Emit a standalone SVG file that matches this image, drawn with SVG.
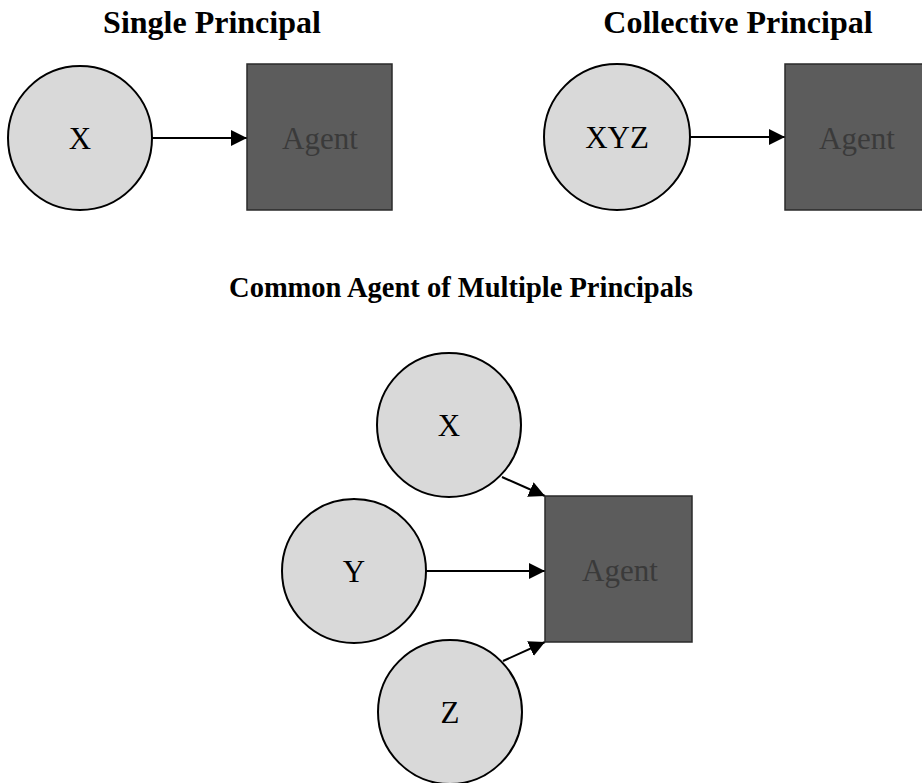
<svg xmlns="http://www.w3.org/2000/svg" width="922" height="783" viewBox="0 0 922 783">
<defs>
<marker id="arr" viewBox="0 0 16 16" refX="16" refY="8" markerWidth="16" markerHeight="16" markerUnits="userSpaceOnUse" orient="auto">
<path d="M0,0 L16,8 L0,16 Z" fill="#000"/>
</marker>
<style>
.title{font-family:"Liberation Serif","Times New Roman",serif;font-weight:bold;font-size:32px;fill:#000;text-anchor:middle}
.p{fill:#d9d9d9;stroke:#000;stroke-width:2}
.a{fill:#5c5c5c;stroke:#2a2a2a;stroke-width:1.5}
.lbl{font-family:"Liberation Serif","Times New Roman",serif;font-size:31px;fill:#000;text-anchor:middle}
.albl{font-family:"Liberation Serif","Times New Roman",serif;font-size:31px;fill:#3a3a3a;text-anchor:middle}
.c{stroke:#000;stroke-width:2;fill:none;marker-end:url(#arr)}
</style>
</defs>
<rect width="922" height="783" fill="#fff"/>
<text class="title" x="212" y="33">Single Principal</text>
<text class="title" x="738" y="33">Collective Principal</text>
<text class="title" x="461" y="297" style="font-size:28.5px">Common Agent of Multiple Principals</text>

<g id="connectors">
<line class="c" x1="152" y1="138" x2="247" y2="138"/>
<line class="c" x1="690" y1="137" x2="785" y2="137"/>
<line class="c" x1="502" y1="477" x2="545" y2="496"/>
<line class="c" x1="426" y1="571" x2="545" y2="571"/>
<line class="c" x1="503" y1="661" x2="545" y2="642"/>
</g>

<g id="single-x"><circle class="p" cx="80" cy="138" r="72"/><text class="lbl" x="80" y="149">X</text></g>
<g id="single-agent"><rect class="a" x="247" y="64" width="145" height="146"/><text class="albl" x="320" y="149">Agent</text></g>

<g id="collective-xyz"><circle class="p" cx="617" cy="137" r="73"/><text class="lbl" x="617" y="148">XYZ</text></g>
<g id="collective-agent"><rect class="a" x="785" y="64" width="145" height="146"/><text class="albl" x="857" y="149">Agent</text></g>

<g id="common-x"><circle class="p" cx="449" cy="425" r="72"/><text class="lbl" x="449" y="436">X</text></g>
<g id="common-y"><circle class="p" cx="354" cy="571" r="72"/><text class="lbl" x="354" y="582">Y</text></g>
<g id="common-z"><circle class="p" cx="450" cy="712" r="72"/><text class="lbl" x="450" y="723">Z</text></g>
<g id="common-agent"><rect class="a" x="545" y="496" width="147" height="146"/><text class="albl" x="620" y="581">Agent</text></g>
</svg>
